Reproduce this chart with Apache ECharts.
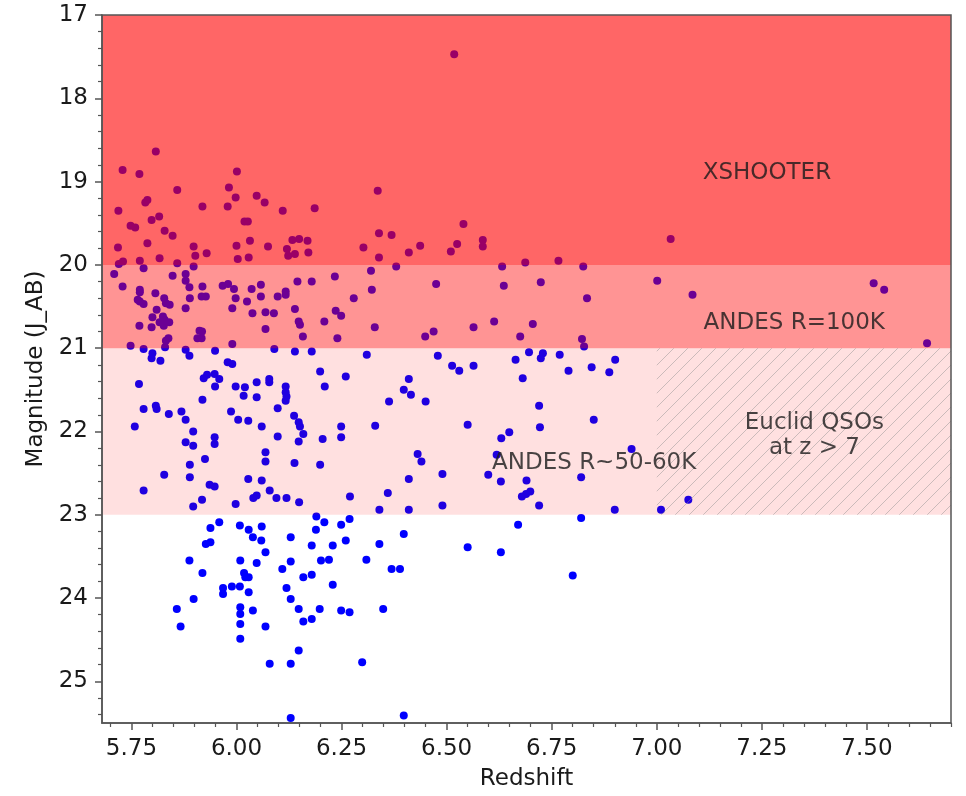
<!DOCTYPE html>
<html>
<head>
<meta charset="utf-8">
<script src="https://cdn.jsdelivr.net/npm/echarts@6/dist/echarts.min.js"></script>
<style>
  html, body { margin: 0; padding: 0; background: #ffffff; }
  #chart { width: 966px; height: 796px; }
</style>
</head>
<body>
<div id="chart"></div>
<script>
// Quasar redshifts and J-band AB magnitudes
const redshift = [
  5.808, 5.729, 5.769, 6.001, 5.859, 5.982, 5.998, 6.048, 6.067, 5.788,
  5.783, 5.719, 5.919, 5.979, 6.110, 6.186, 5.816, 5.798, 5.748, 5.759,
  6.019, 6.027, 5.829, 5.848, 5.788, 6.032, 6.133, 6.149, 6.169, 5.718,
  5.898, 6.000, 6.075, 6.120, 5.817, 5.902, 5.929, 6.003, 6.029, 6.123,
  6.139, 6.171, 5.720, 5.730, 5.770, 5.859, 5.898, 5.779, 5.709, 5.848,
  5.879, 5.879, 5.729, 5.888, 5.770, 5.770, 5.807, 5.919, 5.967, 5.980,
  5.994, 6.036, 6.058, 6.117, 6.145, 6.179, 5.765, 5.770, 5.779, 5.828,
  5.832, 5.841, 5.889, 5.917, 5.927, 5.998, 6.025, 6.058, 6.098, 6.117,
  5.990, 5.879, 5.810, 5.800, 5.825, 5.829, 5.840, 5.817, 5.827, 5.769,
  5.798, 6.038, 6.069, 6.089, 6.139, 6.148, 6.151, 6.209, 6.069, 5.912,
  5.918, 5.907, 5.917, 6.158, 5.838, 5.832, 5.990, 5.748, 5.779, 5.830,
  5.879, 5.888, 6.090, 6.139, 6.179, 5.949, 5.800, 5.798, 5.819, 5.979,
  5.990, 6.199, 5.922, 5.930, 5.948, 5.959, 5.768, 5.998, 6.020, 6.048,
  6.078, 6.078, 6.117, 6.117, 6.119, 6.117, 6.210, 5.949, 6.017, 6.048,
  5.919, 5.779, 5.808, 5.810, 5.839, 5.869, 5.879, 5.987, 6.004, 6.028,
  6.098, 6.060, 6.137, 6.148, 6.151, 6.159, 5.758, 5.897, 5.948, 5.948,
  6.098, 6.205, 5.879, 5.897, 6.148, 6.069, 6.069, 5.925, 5.889, 6.138,
  6.199, 5.828, 5.889, 6.028, 6.060, 5.936, 5.948, 5.779, 6.079, 6.048,
  6.040, 6.095, 6.119, 5.918, 5.998, 6.149, 5.897, 6.190, 6.209, 5.938,
  5.959, 6.008, 6.029, 6.060, 6.039, 6.059, 6.129, 6.189, 6.249, 6.269,
  6.260, 6.179, 6.229, 6.340, 6.398, 5.927, 5.938, 6.069, 5.888, 6.009,
  6.048, 6.129, 6.109, 6.201, 6.220, 6.309, 6.369, 6.389, 5.919, 6.018,
  6.021, 6.029, 6.159, 6.179, 5.968, 5.968, 5.989, 6.008, 6.029, 6.119,
  6.229, 5.898, 6.129, 5.858, 6.009, 6.009, 6.039, 6.148, 6.198, 6.249,
  6.269, 6.349, 5.867, 6.009, 6.069, 6.159, 6.179, 6.009, 6.148, 6.079,
  6.129, 6.299, 6.129, 6.398, 6.518, 6.336, 6.540, 6.339, 6.369, 6.302,
  6.339, 6.410, 6.437, 6.510, 6.525, 6.586, 6.586, 6.380, 6.320, 6.632,
  6.687, 6.766, 6.825, 6.234, 6.322, 6.475, 6.636, 6.724, 6.279, 6.834,
  6.236, 6.249, 6.329, 6.564, 6.613, 6.705, 6.240, 6.449, 6.469, 6.675,
  6.822, 6.827, 6.310, 6.479, 6.513, 6.530, 6.564, 6.664, 6.696, 6.729,
  6.724, 6.769, 6.790, 6.845, 6.887, 6.901, 6.260, 6.410, 6.681, 6.398,
  6.415, 6.363, 6.450, 6.720, 6.330, 6.550, 6.722, 6.850, 6.249, 6.249,
  6.630, 6.649, 6.940, 6.431, 6.440, 6.619, 6.490, 6.410, 6.599, 6.629,
  6.690, 6.820, 6.270, 6.360, 6.340, 6.410, 6.490, 6.679, 6.689, 6.699,
  6.720, 6.900, 7.010, 7.075, 6.670, 6.820, 6.550, 6.629, 6.800, 7.001,
  7.085, 7.516, 7.541, 7.643, 7.033
];
const magnitude = [
  18.64, 18.86, 18.91, 18.88, 19.10, 19.07, 19.19, 19.17, 19.25, 19.22,
  19.25, 19.35, 19.30, 19.30, 19.35, 19.32, 19.42, 19.46, 19.53, 19.55,
  19.48, 19.48, 19.59, 19.65, 19.74, 19.71, 19.70, 19.69, 19.71, 19.79,
  19.78, 19.77, 19.78, 19.81, 19.92, 19.89, 19.86, 19.93, 19.91, 19.89,
  19.87, 19.85, 19.99, 19.96, 19.95, 19.98, 20.02, 20.04, 20.11, 20.13,
  20.11, 20.19, 20.26, 20.27, 20.30, 20.33, 20.34, 20.26, 20.25, 20.23,
  20.29, 20.29, 20.24, 20.32, 20.20, 20.20, 20.42, 20.44, 20.47, 20.40,
  20.46, 20.48, 20.40, 20.38, 20.38, 20.40, 20.44, 20.38, 20.38, 20.36,
  20.52, 20.52, 20.54, 20.63, 20.62, 20.66, 20.69, 20.69, 20.73, 20.73,
  20.75, 20.58, 20.57, 20.58, 20.53, 20.68, 20.72, 20.68, 20.77, 20.79,
  20.80, 20.88, 20.88, 20.86, 20.88, 20.91, 20.95, 20.97, 21.01, 20.99,
  21.02, 21.09, 21.01, 21.04, 21.04, 21.03, 21.06, 21.12, 21.15, 21.17,
  21.19, 21.28, 21.36, 21.32, 21.31, 21.37, 21.43, 21.46, 21.47, 21.41,
  21.37, 21.41, 21.46, 21.53, 21.58, 21.63, 21.46, 21.46, 21.57, 21.59,
  21.62, 21.73, 21.69, 21.73, 21.79, 21.76, 21.86, 21.76, 21.86, 21.87,
  21.72, 21.94, 21.81, 21.89, 21.94, 22.03, 21.94, 22.00, 22.07, 22.15,
  22.06, 22.09, 22.13, 22.17, 22.12, 22.25, 22.36, 22.33, 22.40, 22.38,
  22.40, 22.52, 22.55, 22.57, 22.59, 22.64, 22.66, 22.71, 22.71, 22.77,
  22.80, 22.80, 22.80, 22.82, 22.87, 22.85, 22.90, 23.02, 23.09, 23.16,
  23.09, 23.13, 23.18, 23.14, 23.27, 23.31, 23.27, 23.18, 23.12, 23.05,
  23.31, 23.37, 23.37, 23.35, 23.23, 23.35, 23.33, 23.45, 23.55, 23.55,
  23.58, 23.56, 23.65, 23.55, 23.54, 23.54, 23.65, 23.65, 23.70, 23.70,
  23.75, 23.75, 23.75, 23.72, 23.88, 23.95, 23.86, 23.86, 23.93, 23.88,
  23.84, 24.01, 24.01, 24.13, 24.11, 24.19, 24.15, 24.13, 24.13, 24.15,
  24.17, 24.13, 24.34, 24.31, 24.34, 24.28, 24.25, 24.49, 24.63, 24.79,
  24.79, 24.77, 25.44, 25.41, 17.47, 19.11, 19.51, 19.62, 19.64, 19.79,
  19.91, 19.85, 19.77, 19.84, 19.75, 19.70, 19.78, 20.02, 20.07, 20.02,
  19.97, 19.95, 20.02, 20.14, 20.30, 20.23, 20.25, 20.21, 20.40, 20.40,
  20.55, 20.61, 20.75, 20.75, 20.68, 20.71, 20.88, 20.86, 20.80, 20.86,
  20.89, 20.98, 21.08, 21.09, 21.21, 21.27, 21.21, 21.14, 21.05, 21.06,
  21.12, 21.08, 21.27, 21.23, 21.29, 21.14, 21.34, 21.37, 21.36, 21.50,
  21.56, 21.64, 21.64, 21.69, 21.93, 21.92, 21.95, 21.86, 21.94, 22.07,
  22.08, 22.01, 22.21, 22.27, 22.36, 22.28, 22.51, 22.57, 22.52, 22.60,
  22.59, 22.55, 22.78, 22.74, 22.94, 22.94, 22.89, 22.78, 22.75, 22.72,
  22.89, 22.94, 22.94, 22.82, 23.12, 23.04, 23.39, 23.45, 23.73, 20.19,
  20.36, 20.22, 20.30, 20.94, 19.69
];

// Axis ranges and labelled ticks
const xMin = 5.68, xMax = 7.70;
const yMin = 17, yMax = 25.5;
const xMajorTicks = [5.75, 6.00, 6.25, 6.50, 6.75, 7.00, 7.25, 7.50];
const yMajorTicks = [17, 18, 19, 20, 21, 22, 23, 24, 25];

// Spectrograph magnitude bands: [bright limit, faint limit]
const bandNames  = ['XSHOOTER', 'ANDES R=100K', 'ANDES R~50-60K'];
const bandLimits = [[17, 20], [20, 21], [21, 23]];
const bandColors = ['rgba(255,0,0,0.60)', 'rgba(255,0,0,0.42)', 'rgba(255,0,0,0.12)'];

// Region where Euclid is expected to add quasars
const euclidZmin = 7.0;
const euclidMagRange = [21, 23];

// Text annotations: [redshift, magnitude, text]
const annotations = [
  [7.262, 18.90, bandNames[0]],
  [7.327, 20.70, bandNames[1]],
  [6.851, 22.38, bandNames[2]],
  [7.375, 22.05, 'Euclid QSOs\nat z > 7']
];

// Minor tick positions (every 0.05 in z, every 0.2 in magnitude)
const xMinorTicks = [];
for (let k = 114; k <= 154; k++) if (k % 5 !== 0) xMinorTicks.push(+(k * 0.05).toFixed(2));
const yMinorTicks = [];
for (let k = 86; k <= 127; k++) if (k % 5 !== 0) yMinorTicks.push(+(k * 0.2).toFixed(1));

const points = redshift.map((z, i) => [z, magnitude[i]]);

// Diagonal hatch texture
function hatchTile() {
  const c = document.createElement('canvas');
  c.width = 14; c.height = 14;
  const g = c.getContext('2d');
  g.strokeStyle = 'rgba(140,140,140,0.45)';
  g.lineWidth = 1;
  g.beginPath();
  g.moveTo(-1, 15); g.lineTo(15, -1);
  g.stroke();
  return c;
}

const FONT = 'DejaVu Sans';
const TEXT = '#1a1a1a';
const SPINE = '#555555';

const bandAreas = bandLimits.map((lim, i) => [
  { yAxis: lim[0], itemStyle: { color: bandColors[i] } },
  { yAxis: lim[1] }
]);
bandAreas.push([
  { xAxis: euclidZmin, yAxis: euclidMagRange[0], itemStyle: { color: { image: hatchTile(), repeat: 'repeat' } } },
  { xAxis: xMax, yAxis: euclidMagRange[1] }
]);

const chart = echarts.init(document.getElementById('chart'), null, { renderer: 'canvas' });
chart.setOption({
  animation: false,
  backgroundColor: '#ffffff',
  grid: {
    left: 102, top: 15, width: 849, height: 714,
    show: true, backgroundColor: 'transparent',
    borderColor: SPINE, borderWidth: 1.5, z: 20
  },
  xAxis: [
    {
      type: 'value', min: xMin, max: xMax, position: 'bottom', z: 20,
      name: 'Redshift', nameLocation: 'middle', nameGap: 45,
      nameTextStyle: { fontFamily: FONT, fontSize: 23, color: TEXT },
      axisLine: { show: true, lineStyle: { color: SPINE, width: 1.5 } },
      axisTick: { show: true, length: 7, customValues: xMajorTicks, lineStyle: { color: SPINE, width: 1.5 } },
      axisLabel: {
        show: true, customValues: xMajorTicks, margin: 15,
        fontFamily: FONT, fontSize: 23, color: TEXT,
        formatter: v => v.toFixed(2)
      },
      splitLine: { show: false }
    },
    {
      type: 'value', min: xMin, max: xMax, position: 'bottom', z: 20,
      axisLine: { show: false },
      axisTick: { show: true, length: 4, customValues: xMinorTicks, lineStyle: { color: SPINE, width: 1.2 } },
      axisLabel: { show: false },
      splitLine: { show: false }
    }
  ],
  yAxis: [
    {
      type: 'value', min: yMin, max: yMax, inverse: true, position: 'left', z: 20,
      name: 'Magnitude (J_AB)', nameLocation: 'middle', nameGap: 54,
      nameTextStyle: { fontFamily: FONT, fontSize: 23, color: TEXT },
      axisLine: { show: true, lineStyle: { color: SPINE, width: 1.5 } },
      axisTick: { show: true, length: 7, customValues: yMajorTicks, lineStyle: { color: SPINE, width: 1.5 } },
      axisLabel: {
        show: true, customValues: yMajorTicks, margin: 14,
        fontFamily: FONT, fontSize: 23, color: TEXT,
        formatter: v => String(v)
      },
      splitLine: { show: false }
    },
    {
      type: 'value', min: yMin, max: yMax, inverse: true, position: 'left', z: 20,
      axisLine: { show: false },
      axisTick: { show: true, length: 4, customValues: yMinorTicks, lineStyle: { color: SPINE, width: 1.2 } },
      axisLabel: { show: false },
      splitLine: { show: false }
    }
  ],
  series: [
    {
      type: 'scatter', name: 'QSOs', data: points,
      symbol: 'circle', symbolSize: 8, z: 2, silent: true,
      itemStyle: { color: '#0000ff', opacity: 1 }
    },
    {
      type: 'scatter', name: 'bands', data: [], silent: true,
      markArea: {
        silent: true, z: 5,
        label: { show: false },
        data: bandAreas
      }
    },
    {
      type: 'scatter', name: 'labels', z: 10, silent: true,
      symbolSize: 0,
      data: annotations.map(a => ({ value: [a[0], a[1]], name: a[2] })),
      label: {
        show: true, position: 'inside', formatter: p => p.name,
        fontFamily: FONT, fontSize: 23, lineHeight: 25, color: TEXT, align: 'center', verticalAlign: 'middle'
      }
    }
  ]
});
</script>
</body>
</html>
